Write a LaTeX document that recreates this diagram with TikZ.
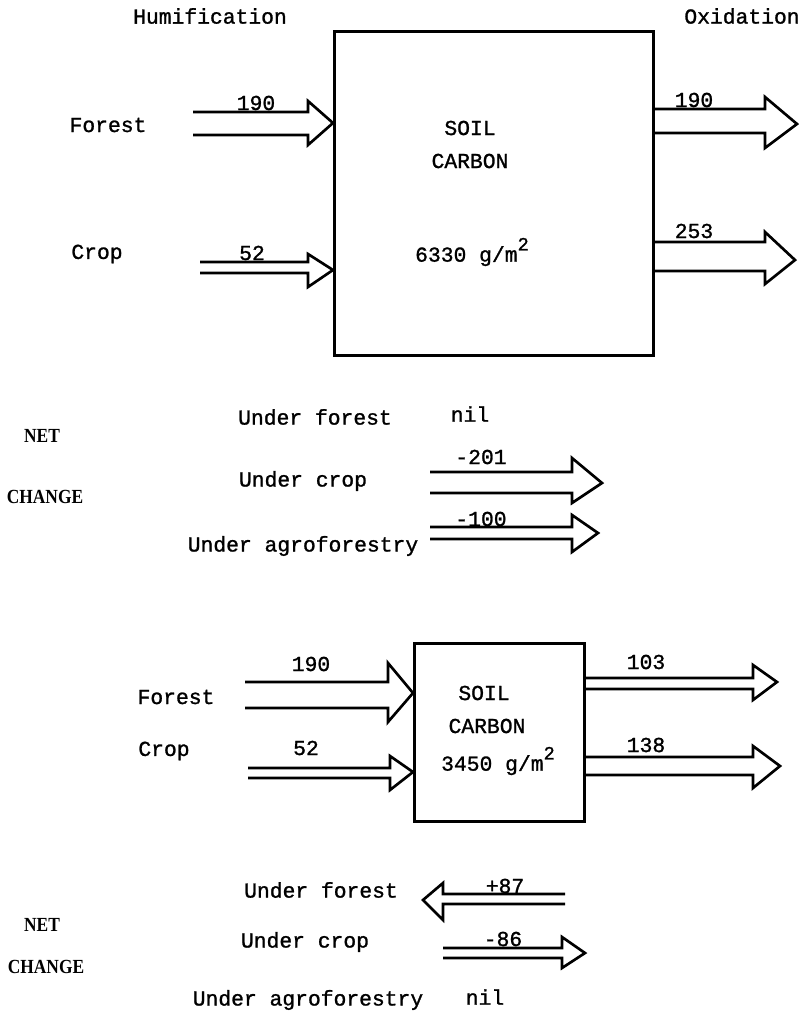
\documentclass[tikz,border=0pt]{standalone}
\usepackage{fontspec}
\setmonofont[FakeBold=1.2]{Liberation Mono}
\newfontfamily\netfont{Liberation Serif}
\newcommand\harrow[8]{\draw[arr] (#1,#4) -- (#2,#4) -- (#2,#6) -- (#3,#8) -- (#2,#7) -- (#2,#5) -- (#1,#5);}
\newcommand\sqm{g/m\raisebox{1.0ex}{\fontsize{14}{14}\selectfont 2}}
\newcommand\nettext[1]{\scalebox{0.87}[1]{\netfont\bfseries\fontsize{15}{17}\selectfont #1}}
\begin{document}
\begin{tikzpicture}[x=0.75pt,y=-0.75pt,
  every node/.style={font=\ttfamily\fontsize{16}{18}\selectfont, inner sep=0pt},
  lbl/.style={},
  netlbl/.style={},
  box/.style={draw, line width=2pt, anchor=north west},
  arr/.style={line width=2pt, line join=miter}]
\useasboundingbox (0,0) rectangle (799,1017);
% ---------- top panel ----------
\node[lbl] (hum) at (210,16) {Humification};
\node[lbl] (oxi) at (742,16) {Oxidation};
\node[box, minimum width=239.25pt, minimum height=243pt] (box1) at (333,30) {};
\node[lbl] (soil1) at (470,128) {SOIL};
\node[lbl] (carb1) at (470,161) {CARBON};
\node[lbl] (amt1) at (472,252) {6330 \sqm};
\node[lbl] (forest1) at (108,125) {Forest};
\node[lbl] (crop1) at (97,254) {Crop};
\harrow{193}{308}{333}{112}{135}{101}{145}{123}
\harrow{200}{308}{333}{262}{273}{254}{287}{270}
\harrow{652}{765}{797}{109}{133}{97}{148}{124}
\harrow{652}{765}{795}{242}{271}{232}{284}{260}
\node[lbl] (f1v) at (256,103) {190};
\node[lbl] (c1v) at (252,253) {52};
\node[lbl] (o1v) at (694,100) {190};
\node[lbl] (o2v) at (694,231) {253};
% ---------- net change 1 ----------
\node[lbl] (uf1) at (315,417) {Under forest};
\node[lbl] (nil1) at (470,414) {nil};
\node[netlbl] (net1) at (42,436) {\nettext{NET}};
\node[netlbl] (chg1) at (45,497) {\nettext{CHANGE}};
\node[lbl] (uc1) at (303,481) {Under crop};
\node[lbl] (ua1) at (303,546) {Under agroforestry};
\harrow{430}{572}{602}{472}{493}{458}{503}{483}
\harrow{430}{572}{598}{527}{539}{515}{552}{533}
\node[lbl] (n201) at (481,457) {-201};
\node[lbl] (n100) at (481,519) {-100};
% ---------- bottom panel ----------
\node[box, minimum width=127.5pt, minimum height=133.5pt] (box2) at (413,642) {};
\node[lbl] (soil2) at (484,693) {SOIL};
\node[lbl] (carb2) at (487,726) {CARBON};
\node[lbl] (amt2) at (498,761) {3450 \sqm};
\node[lbl] (forest2) at (176,697) {Forest};
\node[lbl] (crop2) at (164,751) {Crop};
\harrow{245}{388}{413}{682}{708}{663}{722}{693}
\harrow{248}{390}{413}{768}{778}{756}{790}{772}
\harrow{583}{753}{777}{678}{689}{665}{700}{682}
\harrow{583}{753}{780}{757}{775}{746}{788}{766}
\node[lbl] (f2v) at (311,664) {190};
\node[lbl] (c2v) at (306,748) {52};
\node[lbl] (o3v) at (646,662) {103};
\node[lbl] (o4v) at (646,745) {138};
% ---------- net change 2 ----------
\node[lbl] (uf2) at (321,890) {Under forest};
\node[netlbl] (net2) at (42,925) {\nettext{NET}};
\node[netlbl] (chg2) at (46,967) {\nettext{CHANGE}};
\node[lbl] (uc2) at (305,942) {Under crop};
\node[lbl] (ua2) at (308,1000) {Under agroforestry};
\node[lbl] (nil2) at (485,997) {nil};
\harrow{565}{443}{423}{894}{904}{883}{920}{900}
\harrow{443}{562}{585}{948}{958}{937}{968}{953}
\node[lbl] (p87) at (505,886) {+87};
\node[lbl] (m86) at (503,939) {-86};
\end{tikzpicture}
\end{document}
